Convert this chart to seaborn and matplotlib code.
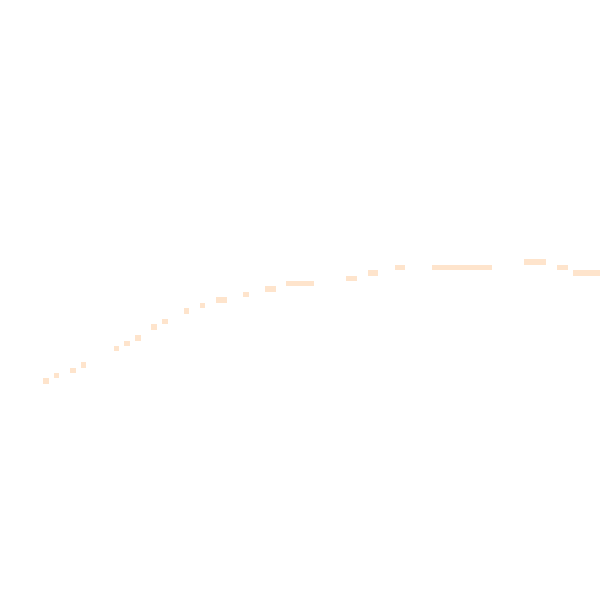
import numpy as np
import pandas as pd
import matplotlib
matplotlib.use("Agg")
import matplotlib.pyplot as plt
from matplotlib.colors import ListedColormap
import seaborn as sns

# grid cells of the faint curve (111 x 111 grid, row 0 at top)
n_cells = 111
col_start = [8, 10, 13, 15, 21, 23, 25, 28, 30, 34, 37, 40, 45, 49, 53,
             64, 68, 73, 80, 97, 103, 106]
col_end = [8, 10, 13, 15, 21, 23, 25, 28, 30, 34, 37, 41, 45, 50, 57,
           65, 69, 74, 90, 100, 104, 110]
row = [70, 69, 68, 67, 64, 63, 62, 60, 59, 57, 56, 55, 54, 53, 52,
       51, 50, 49, 49, 48, 49, 50]

grid = np.full((n_cells, n_cells), np.nan)
for c0, c1, r in zip(col_start, col_end, row):
    grid[r, c0:c1 + 1] = 1.0

df = pd.DataFrame(grid)

fig = plt.figure(figsize=(6, 6), dpi=100)
ax = fig.add_axes([0, 0, 1, 1])
sns.heatmap(df, cmap=ListedColormap(["#fee4cc"]), cbar=False, ax=ax,
            xticklabels=False, yticklabels=False)
ax.axis("off")

fig.savefig("out.png", dpi=100, facecolor="white")
plt.close(fig)
